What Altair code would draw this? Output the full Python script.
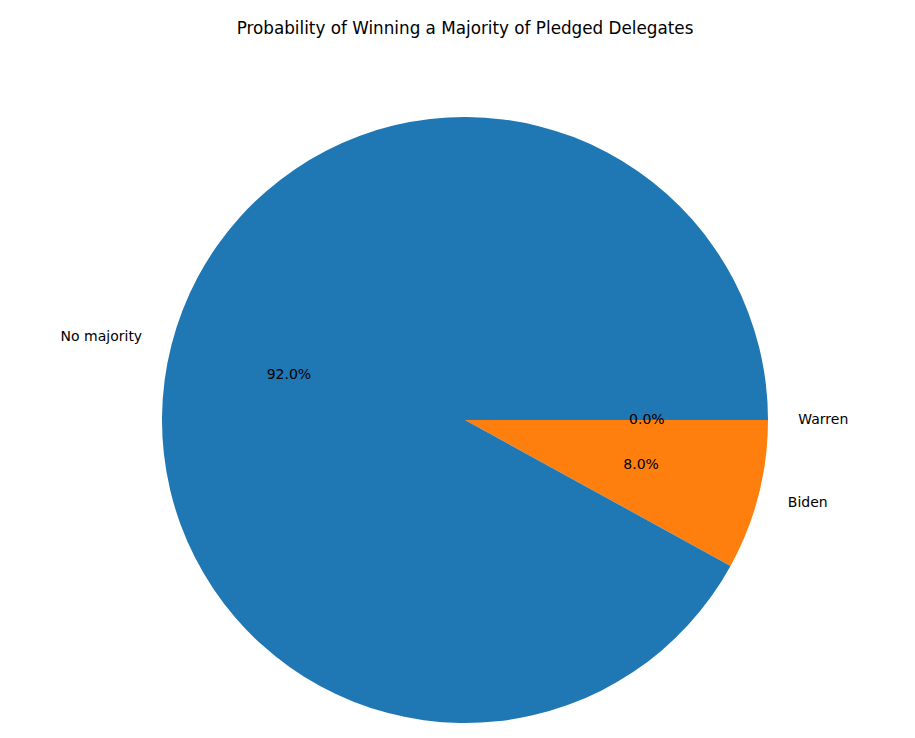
import math

import altair as alt
import pandas as pd

# Slices in drawing order (clockwise from 3 o'clock)
candidates = ["Warren", "Biden", "No majority"]
probabilities = [0.0, 8.0, 92.0]
slice_colors = ["#2ca02c", "#ff7f0e", "#1f77b4"]
# which side of the pie each outer label sits on
label_sides = ["right", "right", "left"]

df = pd.DataFrame({
    "candidate": candidates,
    "prob": probabilities,
    "side": label_sides,
    "idx": list(range(len(candidates))),
})
df["pct"] = df["prob"].map(lambda v: f"{v:.1f}%")

FONT = "DejaVu Sans"
R = 303

theta = alt.Theta(
    "prob:Q",
    stack=True,
    scale=alt.Scale(range=[math.pi / 2, math.pi / 2 + 2 * math.pi]),
)
order = alt.Order("idx:Q")

base = alt.Chart(df)

arcs = base.mark_arc(outerRadius=R, stroke=None).encode(
    theta=theta,
    order=order,
    color=alt.Color(
        "candidate:N",
        scale=alt.Scale(domain=candidates, range=slice_colors),
        legend=None,
    ),
)

pct_labels = base.mark_text(
    radius=R * 0.6, font=FONT, fontSize=14, color="black", baseline="middle"
).encode(theta=theta, order=order, text="pct:N")

right_labels = base.mark_text(
    radius=R * 1.1, font=FONT, fontSize=14, color="black",
    align="left", baseline="middle",
).encode(
    theta=theta,
    order=order,
    text=alt.condition("datum.side == 'right'", "candidate:N", alt.value("")),
)

left_labels = base.mark_text(
    radius=R * 1.1, font=FONT, fontSize=14, color="black",
    align="right", baseline="middle",
).encode(
    theta=theta,
    order=order,
    text=alt.condition("datum.side == 'left'", "candidate:N", alt.value("")),
)

chart = alt.layer(arcs, pct_labels, right_labels, left_labels).properties(
    width=700,
    height=600,
    autosize=alt.AutoSizeParams(type="none"),
    padding={"left": 107, "top": 112, "right": 90, "bottom": 10},
    title=alt.TitleParams(
        text="Probability of Winning a Majority of Pledged Delegates",
        font=FONT,
        fontSize=16.8,
        fontWeight="normal",
        color="black",
        anchor="middle",
        offset=79,
    ),
).configure_view(stroke=None)

chart.save("out.html", embed_options={"renderer": "svg", "actions": False})
